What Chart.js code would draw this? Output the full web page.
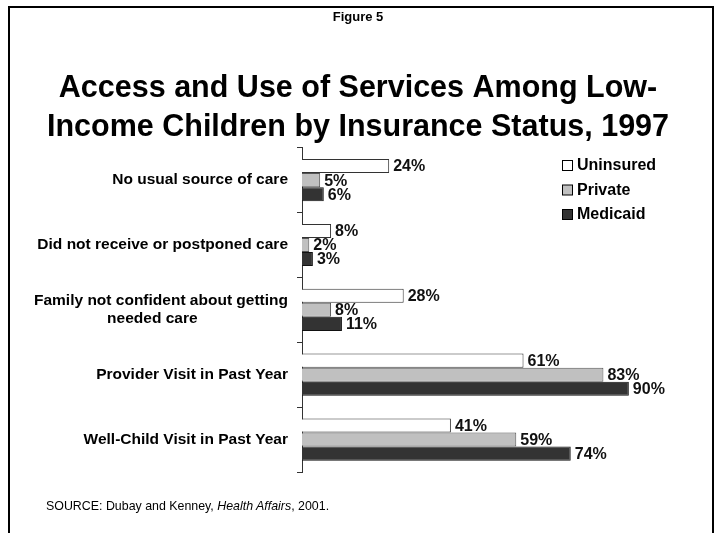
<!DOCTYPE html>
<html>
    <head>
        <meta charset="UTF-8"/>
        <script src="https://cdn.jsdelivr.net/npm/chart.js@4.4.0/dist/chart.umd.min.js"></script>
        <style>
            body{margin:0;background:#fff;}
            #wrap{position:relative;width:716px;height:533px;}
            #chart{position:absolute;left:0;top:0;}
            #frame{position:absolute;left:8px;top:6px;width:702px;height:540px;border:2px solid #000;border-bottom:none;}
            #source{position:absolute;left:46px;top:499px;font:12.4px 'Liberation Sans',Arial,sans-serif;color:#000;}
        </style>
    </head>
    <body>
        <div id="wrap">
            <div id="frame"></div>
            <canvas id="chart" width="716" height="533"></canvas>
            <div id="source">SOURCE: Dubay and Kenney, <i>Health Affairs</i>, 2001.</div>
        </div>

        <script>
        const categories=[
            'No usual source of care',
            'Did not receive or postponed care',
            ['Family not confident about getting','needed care                     '],
            'Provider Visit in Past Year',
            'Well-Child Visit in Past Year'
        ];
        const uninsured=[24,8,28,61,41];
        const privateIns=[5,2,8,83,59];
        const medicaid=[6,3,11,90,74];
        const seriesNames=['Uninsured','Private','Medicaid'];

        const FONT="'Liberation Sans', Arial, sans-serif";

        // percent labels at the end of each bar
        const barLabels={
            id:'barLabels',
            afterDatasetsDraw(chart){
                const ctx=chart.ctx;
                ctx.save();
                ctx.font='bold 16px '+FONT;
                ctx.fillStyle='#111';
                ctx.textBaseline='middle';
                ctx.textAlign='left';
                chart.data.datasets.forEach((ds,i)=>{
                    chart.getDatasetMeta(i).data.forEach((bar,j)=>{
                        ctx.fillText(ds.data[j]+'%',bar.x+4,bar.y+1);
                    });
                });
                ctx.restore();
            }
        };

        // legend box top right, inside the plot
        const boxLegend={
            id:'boxLegend',
            afterDraw(chart){
                const ctx=chart.ctx;
                ctx.save();
                ctx.font='bold 16px '+FONT;
                ctx.textBaseline='middle';
                chart.data.datasets.forEach((ds,i)=>{
                    const y=166+i*24.5;
                    ctx.fillStyle=ds.backgroundColor;
                    ctx.fillRect(562.5,y-5.5,10,10);
                    ctx.strokeStyle='#000';
                    ctx.lineWidth=1;
                    ctx.strokeRect(562.5,y-5.5,10,10);
                    ctx.fillStyle='#000';
                    ctx.fillText(ds.label,577,y);
                });
                ctx.restore();
            }
        };

        const ctx=document.getElementById('chart').getContext('2d');
        const myChart=new Chart(ctx,{
            type:'bar',
            data:{
                labels:categories,
                datasets:[
                    {label:seriesNames[0],data:uninsured,backgroundColor:'#ffffff',borderColor:'#333333',borderWidth:1},
                    {label:seriesNames[1],data:privateIns,backgroundColor:'#c0c0c0',borderColor:'#555555',borderWidth:1},
                    {label:seriesNames[2],data:medicaid,backgroundColor:'#333333',borderColor:'#111111',borderWidth:1}
                ]
            },
            options:{
                indexAxis:'y',
                responsive:false,
                animation:false,
                categoryPercentage:0.65,
                barPercentage:1,
                layout:{padding:{left:0,right:0,bottom:61,top:0}},
                scales:{
                    // plot runs to the page edge, so titles stay centred
                    x:{display:false,min:0,max:114},
                    y:{
                        afterFit:function(scale){scale.width=302;},
                        grid:{drawOnChartArea:false,drawTicks:true,tickLength:5,color:'#333',offset:true},
                        border:{display:true,color:'#333',width:1},
                        ticks:{color:'#000',padding:9,font:{family:FONT,size:15.5,weight:'bold',lineHeight:1.2}}
                    }
                },
                plugins:{
                    legend:{display:false},
                    tooltip:{enabled:false},
                    subtitle:{
                        display:true,
                        text:'Figure 5',
                        weight:3000,
                        color:'#000',
                        font:{family:FONT,size:13,weight:'bold',lineHeight:1.2},
                        padding:{top:10,bottom:0}
                    },
                    title:{
                        display:true,
                        text:['Access and Use of Services Among Low-','Income Children by Insurance Status, 1997'],
                        color:'#000',
                        font:{family:FONT,size:30.5,weight:'bold',lineHeight:1.28},
                        padding:{top:43,bottom:1}
                    }
                }
            },
            plugins:[barLabels,boxLegend]
        });
        </script>
    </body>
</html>
